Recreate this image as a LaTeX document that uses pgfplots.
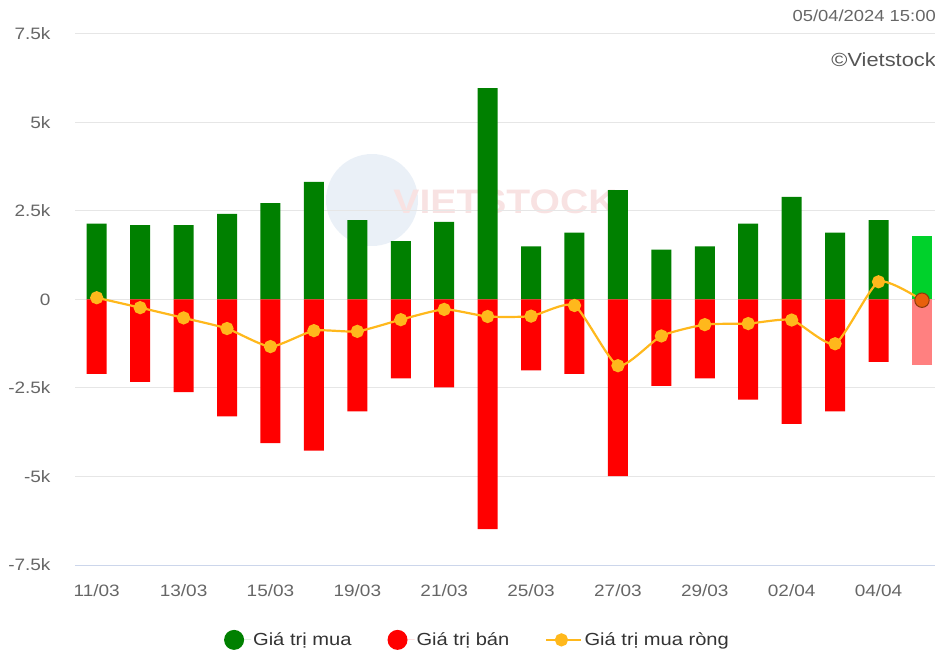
\documentclass[border=0pt]{standalone}
\usepackage{pgfplots}
\pgfplotsset{compat=1.18}
\usepackage{fontspec}
\setmainfont{Liberation Sans}[FakeStretch=1.15]
\definecolor{buy}{HTML}{008000}
\definecolor{sell}{HTML}{FF0000}
\definecolor{buyl}{HTML}{00D12B}
\definecolor{selll}{HTML}{FF8080}
\definecolor{netc}{HTML}{FFB81C}
\definecolor{netl}{HTML}{E8600C}
\definecolor{netb}{HTML}{8B3A0A}
\definecolor{gridc}{HTML}{E6E6E6}
\definecolor{axc}{HTML}{CCD6EB}
\definecolor{labc}{HTML}{666666}
\definecolor{legc}{HTML}{333333}
\definecolor{copyc}{HTML}{555555}
\definecolor{wmb}{HTML}{EAF0F7}
\definecolor{wmr}{HTML}{F8E2E2}
\begin{document}
\begin{tikzpicture}
\useasboundingbox (-75pt,-89pt) rectangle (860pt,565pt);
% watermark
\fill[wmb] (297pt,365pt) circle (46pt);
\node[text=wmr,font=\bfseries\fontsize{34}{34}\selectfont] at (430pt,363pt) {VIETSTOCK};
\begin{axis}[
  scale only axis, width=860pt, height=531pt,
  xmin=-0.5, xmax=19.3, ymin=-7.5, ymax=7.5,
  axis line style={draw=none},
  ytick={-7.5,-5,-2.5,0,2.5,5,7.5},
  yticklabels={-7.5k,-5k,-2.5k,0,2.5k,5k,7.5k},
  xtick={0,2,4,6,8,10,12,14,16,18},
  xticklabels={11/03,13/03,15/03,19/03,21/03,25/03,27/03,29/03,02/04,04/04},
  major tick length=0pt,
  ymajorgrids, grid style={gridc, line width=1pt},
  tick label style={text=labc, font=\fontsize{16.5}{17}\selectfont},
  yticklabel style={anchor=east, xshift=-21pt},
  xticklabel style={yshift=-16pt},
  clip=false,
  legend style={at={(0.468,-0.141)}, anchor=center, draw=none, fill=none,
    legend columns=3, font=\fontsize{17.5}{18}\selectfont, text=legc,
    /tikz/every even column/.append style={column sep=34pt}},
  legend cell align=left,
]
\draw[axc, line width=1pt] (axis cs:-0.5,-7.5) -- (axis cs:19.3,-7.5);
\addplot[ybar, bar width=20pt, bar shift=0pt, fill=buy, draw=none,
  legend image code/.code={\fill[buy] (10pt,0) circle (10pt); \path (0,0) -- (27pt,0);}]
  coordinates {(0,2.14) (1,2.10) (2,2.10) (3,2.42) (4,2.72) (5,3.32) (6,2.24) (7,1.65) (8,2.19) (9,5.97)
  (10,1.50) (11,1.89) (12,3.09) (13,1.41) (14,1.50) (15,2.14) (16,2.90) (17,1.89) (18,2.24)};
\addlegendentry{Giá trị mua}
\addplot[ybar, bar width=20pt, bar shift=0pt, fill=sell, draw=none,
  legend image code/.code={\fill[sell] (10pt,0) circle (10pt); \path (0,0) -- (27pt,0);}]
  coordinates {(0,-2.10) (1,-2.33) (2,-2.62) (3,-3.30) (4,-4.06) (5,-4.27) (6,-3.16) (7,-2.23) (8,-2.48) (9,-6.49)
  (10,-2.00) (11,-2.10) (12,-4.99) (13,-2.44) (14,-2.23) (15,-2.83) (16,-3.51) (17,-3.16) (18,-1.76)};
\addlegendentry{Giá trị bán}
\addplot[ybar, bar width=20pt, bar shift=0pt, fill=buyl, draw=none, forget plot]
  coordinates {(19,1.79)};
\addplot[ybar, bar width=20pt, bar shift=0pt, fill=selll, draw=none, forget plot]
  coordinates {(19,-1.85)};
\addplot[netc, line width=2.2pt, smooth, tension=0.35, mark=*, mark size=5.5pt,
  mark options={fill=netc, draw=none},
  legend image code/.code={\draw[netc, line width=2.2pt] (0pt,0) -- (30pt,0); \fill[netc] (15pt,0) circle (5.5pt); \path (0,0) -- (35pt,0);}]
  coordinates {(0,0.05) (1,-0.23) (2,-0.52) (3,-0.82) (4,-1.33) (5,-0.88) (6,-0.90) (7,-0.57) (8,-0.28) (9,-0.48)
  (10,-0.47) (11,-0.17) (12,-1.87) (13,-1.03) (14,-0.71) (15,-0.68) (16,-0.58) (17,-1.25) (18,0.50) (19,-0.02)};
\addlegendentry{Giá trị mua ròng}
\addplot[only marks, mark=*, mark size=7.2pt, mark options={fill=netl, draw=netb, line width=1pt}, forget plot]
  coordinates {(19,-0.02)};
\end{axis}
\node[anchor=east, text=labc, font=\fontsize{16}{17}\selectfont, inner sep=0pt] at (861pt,549pt) {05/04/2024 15:00};
\node[anchor=east, text=copyc, font=\fontsize{19}{20}\selectfont, inner sep=0pt] at (861pt,505pt) {©Vietstock};
\end{tikzpicture}
\end{document}
